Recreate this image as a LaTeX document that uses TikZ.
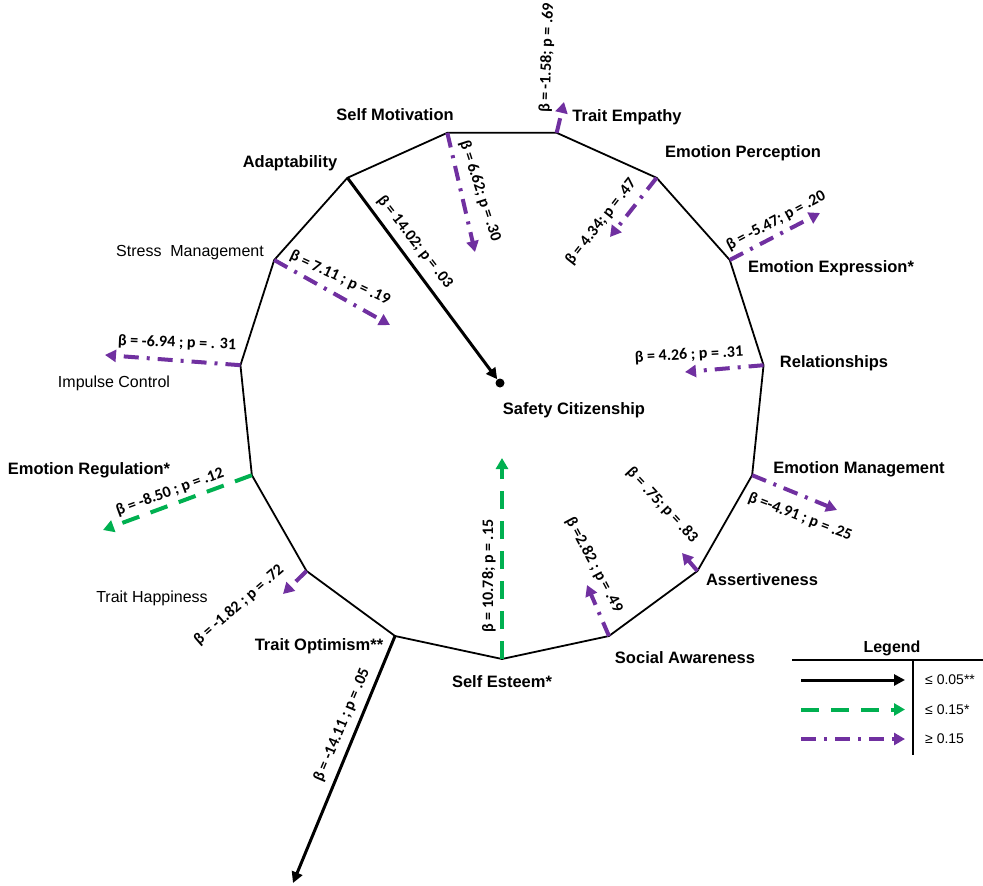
\documentclass[tikz,border=0pt]{standalone}
\usepackage{fontspec}
\setmainfont{Liberation Sans}
\newfontfamily\betafont{Carlito}
\usetikzlibrary{arrows.meta,calc}
\definecolor{figgreen}{RGB}{0,176,80}
\definecolor{figpurple}{RGB}{112,48,160}

\begin{document}
\begin{tikzpicture}[x=1pt,y=-1pt,
  trait/.style={font=\fontsize{16.5}{18}\selectfont\bfseries},
  traitlt/.style={font=\fontsize{16}{18}\selectfont},
  betalbl/.style={font=\betafont\fontsize{16}{18}\selectfont\bfseries,inner sep=1pt},
  poly/.style={draw,line width=1.8pt},
  sig/.style={line width=3pt,-{Triangle[length=11pt,width=11pt]}},
  weak/.style={line width=4pt,figgreen,dash pattern=on 18pt off 12pt,
               -{Triangle[length=11pt,width=12pt]}},
  ns/.style={line width=4pt,figpurple,dash pattern=on 15pt off 8pt on 3pt off 8pt,
             -{Triangle[length=11pt,width=12pt]}}
]
\useasboundingbox (0,0) rectangle (983,886);

% the 15 facets
\coordinate (c) at (502,393);
\foreach \nm [count=\i from 0] in {esteem,social,assert,emomgmt,relat,emoexp,emoperc,
    empathy,selfmot,adapt,stress,impulse,emoreg,happy,optim}
  \coordinate (\nm) at ($(c)+({90-24*\i}:263 and 266)$);
\draw[poly] (esteem) -- (social) -- (assert) -- (emomgmt) -- (relat) -- (emoexp)
  -- (emoperc) -- (empathy) -- (selfmot) -- (adapt) -- (stress) -- (impulse)
  -- (emoreg) -- (happy) -- (optim) -- cycle;

\node[trait] (lselfmot) at (395,115) {Self Motivation};
\node[trait] (ladapt) at (290,163) {Adaptability};
\node[trait] (lempathy) at (627,117) {Trait Empathy};
\node[trait] (lemoperc) at (743,153) {Emotion Perception};
\node[trait] (lemoexp) at (831,268) {Emotion Expression*};
\node[trait] (lrelat) at (834,363) {Relationships};
\node[trait] (lemomgmt) at (859,469) {Emotion Management};
\node[trait] (lassert) at (762,580) {Assertiveness};
\node[trait] (lsocial) at (685,658) {Social Awareness};
\node[trait] (lesteem) at (502,682) {Self Esteem*};
\node[trait] (loptim) at (319,646) {Trait Optimism**};
\node[traitlt] (lhappy) at (152,598) {Trait Happiness};
\node[trait] (lemoreg) at (89,470) {Emotion Regulation*};
\node[traitlt] (limpulse) at (114,383) {Impulse Control};
\node[traitlt] (lstress) at (190,253) {Stress\ \ Management};

\node[trait] (sc) at (574,410) {Safety Citizenship};
\node[circle,fill,inner sep=0pt,minimum size=9pt] (dot) at (500,383) {};

% arrow ends
\coordinate (tselfmot) at (475,252);
\coordinate (tempathy) at (564,102);
\coordinate (temoperc) at (610,237);
\coordinate (temoexp) at (820,213);
\coordinate (trelat) at (685,372);
\coordinate (temomgmt) at (837,510);
\coordinate (tassert) at (682,553);
\coordinate (tsocial) at (587,585);
\coordinate (testeem) at (502,458);
\coordinate (toptim) at (293,883);
\coordinate (thappy) at (283,594);
\coordinate (temoreg) at (103,530);
\coordinate (timpulse) at (105,355);
\coordinate (tstress) at (390,325);

\draw[sig] (adapt) -- (dot);
\draw[sig] (optim) -- (toptim);
\draw[weak] (esteem) -- (testeem);
\draw[weak] (emoreg) -- (temoreg);
\draw[ns] (selfmot) -- (tselfmot);
\draw[ns] (empathy) -- (tempathy);
\draw[ns] (emoperc) -- (temoperc);
\draw[ns] (emoexp) -- (temoexp);
\draw[ns] (relat) -- (trelat);
\draw[ns] (emomgmt) -- (temomgmt);
\draw[ns] (assert) -- (tassert);
\draw[ns] (social) -- (tsocial);
\draw[ns] (happy) -- (thappy);
\draw[ns] (impulse) -- (timpulse);
\draw[ns] (stress) -- (tstress);

% coefficients
\node[betalbl,rotate=-52] (badapt) at (415,242) {β = 14.02; p = .03};
\node[betalbl,rotate=-72] (bselfmot) at (480,191) {β = 6.62; p = .30};
\node[betalbl,rotate=88] (bempathy) at (547,58) {β = -1.58; p = .69};
\node[betalbl,rotate=52] (bemoperc) at (601,222) {β = 4.34; p = .47};
\node[betalbl,rotate=28] (bemoexp) at (776,221) {β = -5.47; p = .20};
\node[betalbl,rotate=3] (brelat) at (689,355) {β = 4.26 ; p = .31};
\node[betalbl,rotate=-21] (bemomgmt) at (800,517) {β =-4.91 ; p = .25};
\node[betalbl,rotate=-47] (bassert) at (662,505) {β = .75; p = .83};
\node[betalbl,rotate=-62] (bsocial) at (594,565) {β =2.82 ; p = .49};
\node[betalbl,rotate=90] (besteem) at (489,576) {β = 10.78; p = .15};
\node[betalbl,rotate=67] (boptim) at (342,725) {β = -14.11 ; p = .05};
\node[betalbl,rotate=41] (bhappy) at (239,605) {β = -1.82 ; p = .72};
\node[betalbl,rotate=20] (bemoreg) at (170,492) {β = -8.50 ; p = .12};
\node[betalbl,rotate=-2] (bimpulse) at (177,343) {β = -6.94 ; p = . 31};
\node[betalbl,rotate=-25] (bstress) at (340,278) {β = 7.11 ; p = .19};

% legend
\node[trait,font=\fontsize{16}{18}\selectfont\bfseries] (leg) at (892,648) {Legend};
\coordinate (lgl) at (792,660);
\coordinate (lgr) at (983,660);
\coordinate (lgt) at (913,660);
\coordinate (lgb) at (913,755);
\draw[line width=2pt] (lgl) -- (lgr);
\draw[line width=2pt] (lgt) -- (lgb);
\foreach \sty/\txt [count=\k from 0] in {sig/{≤ 0.05**},weak/{≤ 0.15*},ns/{≥ 0.15}} {
  \coordinate (ls\k) at (801,680+29.5*\k);
  \coordinate (le\k) at (905,680+29.5*\k);
  \draw[\sty] (ls\k) -- (le\k);
  \node[anchor=west,inner sep=0pt,font=\fontsize{14}{16}\selectfont] (lt\k)
    at (925,680+29.5*\k) {\txt};
}
\end{tikzpicture}
\end{document}
